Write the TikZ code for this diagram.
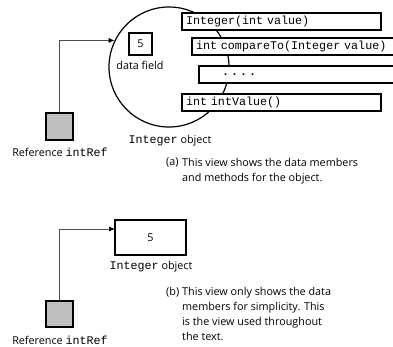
\documentclass[tikz,border=0pt]{standalone}
\usepackage{fontspec}
\setmainfont{Open Sans}
\setmonofont{Liberation Mono}
\usetikzlibrary{arrows.meta}
\begin{document}
\begin{tikzpicture}[x=1pt,y=-1pt,
  box/.style={draw=black, line width=1.3pt, fill=white, inner sep=0pt, outer sep=0pt},
  meth/.style={box, anchor=north west, minimum height=17pt, inner xsep=4pt, align=left,
               font=\ttfamily\fontsize{11.7}{12}\selectfont},
  refbox/.style={draw=black, line width=1.3pt, fill=black!25, minimum width=27pt, inner sep=0pt},
  lbl/.style={font=\fontsize{10.8}{14}\selectfont, inner sep=0pt},
  captext/.style={anchor=north west, align=left, inner sep=0pt, font=\fontsize{10.8}{15}\selectfont},
  link/.style={draw=black!70, line width=0.7pt, -{Latex[length=6pt,width=5pt,color=black]}}
]
\useasboundingbox (0,0) rectangle (393,347);

% ---------- part (a) ----------
\node[circle, draw=black, line width=1.2pt, minimum size=120pt, inner sep=0pt] (circ) at (169,67) {};
\node[box, minimum width=23pt, minimum height=22pt, font=\fontsize{10.8}{12}\selectfont] (field) at (140.5,44) {5};
\node[lbl] (fieldlbl) at (140,65) {data field};

\node[meth, text width=191pt] (m1) at (182,13) {Integer(int value)};
\node[meth, text width=194pt] (m2) at (192,38) {int compareTo(Integer value)};
\node[meth, text width=188pt] (m3) at (199,66) {\hspace*{19pt}\textbf{.\hspace{2pt}.\hspace{2pt}.\hspace{2pt}.}};
\node[meth, text width=191pt] (m4) at (182,94) {int intValue()};

\node[lbl] (objlblA) at (170,141) {{\ttfamily\fontsize{11.7}{12}\selectfont Integer} object};

\node[refbox, minimum height=27pt] (refA) at (59.5,126.5) {};
\node[lbl] (refAlbl) at (60,152) {Reference {\ttfamily\fontsize{11.7}{12}\selectfont intRef}};

\draw[link] (refA.north) |- (circ.154);

\node[captext] (capAl) at (166,158) {(a)};
\node[captext] (capA) at (182,158) {This view shows the data members\\and methods for the object.};

% ---------- part (b) ----------
\node[box, minimum width=71pt, minimum height=35pt, font=\fontsize{10.8}{12}\selectfont] (objB) at (150.5,237.5) {5};
\node[lbl] (objlblB) at (151,267) {{\ttfamily\fontsize{11.7}{12}\selectfont Integer} object};

\node[refbox, minimum height=26pt] (refB) at (59.5,314) {};
\node[lbl] (refBlbl) at (60,340.5) {Reference {\ttfamily\fontsize{11.7}{12}\selectfont intRef}};

\draw[link] (refB.north) |- ([yshift=-9pt]objB.north west);

\node[captext] (capBl) at (166,287.5) {(b)};
\node[captext] (capB) at (182,287.5) {This view only shows the data\\members for simplicity. This\\is the view used throughout\\the text.};
\end{tikzpicture}
\end{document}
